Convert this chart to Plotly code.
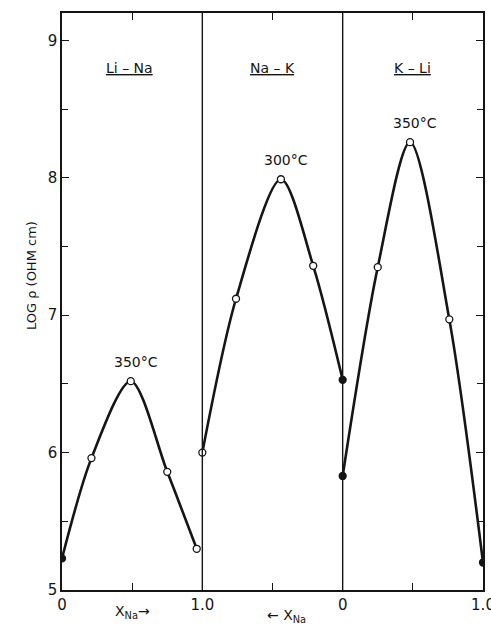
import plotly.graph_objects as go

# Li-Na panel (x from 0 to 1)
x_lina = [0.0, 0.21, 0.49, 0.75, 0.96]
y_lina = [5.23, 5.96, 6.52, 5.86, 5.30]
f_lina = [True, False, False, False, False]

# Na-K panel (x from 1 to 2)
x_nak = [1.0, 1.24, 1.56, 1.79, 2.0]
y_nak = [6.00, 7.12, 7.99, 7.36, 6.53]
f_nak = [False, False, False, False, True]

# K-Li panel (x from 2 to 3)
x_kli = [2.0, 2.25, 2.48, 2.76, 3.0]
y_kli = [5.83, 7.35, 8.26, 6.97, 5.20]
f_kli = [True, False, False, False, True]

panel_names = ["Li – Na", "Na – K", "K – Li"]
temps = ["350°C", "300°C", "350°C"]

x_tickvals = [0, 1, 2, 3]
x_ticktext = ["0", "1.0", "0", "1.0"]
y_tickvals = [5, 6, 7, 8, 9]

INK = "#151515"
FONT = "DejaVu Sans"

fig = go.Figure()

panels = [(x_lina, y_lina, f_lina), (x_nak, y_nak, f_nak), (x_kli, y_kli, f_kli)]
for xs, ys, fs in panels:
    fig.add_trace(go.Scatter(
        x=xs, y=ys, mode="lines",
        line=dict(color=INK, width=2.6, shape="spline", smoothing=0.85),
        showlegend=False, hoverinfo="skip"))
    fig.add_trace(go.Scatter(
        x=xs, y=ys, mode="markers",
        marker=dict(size=7, symbol="circle",
                    color=[INK if f else "white" for f in fs],
                    line=dict(color=INK, width=1.3)),
        showlegend=False))

# panel dividers
for xs in (x_nak, x_kli):
    fig.add_shape(type="line", x0=xs[0], x1=xs[0], y0=0, y1=1,
                  xref="x", yref="paper", line=dict(color=INK, width=1.4))

# panel labels and temperatures
for (xs, ys, fs), name, temp in zip(panels, panel_names, temps):
    xc = (xs[0] + xs[-1]) / 2
    fig.add_annotation(x=xc, y=8.8, xref="x", yref="y", text="<u>" + name + "</u>",
                       showarrow=False, font=dict(family=FONT, size=14, color=INK))
    i = ys.index(max(ys))
    fig.add_annotation(x=xs[i], y=ys[i], xref="x", yref="y", text=temp,
                       showarrow=False, yshift=19, xshift=5,
                       font=dict(family=FONT, size=14, color=INK))

# axis titles
fig.add_annotation(x=-0.095, y=0.545, xref="paper", yref="paper",
                   text="LOG ρ (OHM cm)", textangle=-90, showarrow=False,
                   font=dict(family=FONT, size=13, color=INK))
fig.add_annotation(x=0.5, y=0, xref="x", yref="paper", yshift=-33,
                   text="X<sub>Na</sub>→", showarrow=False,
                   font=dict(family=FONT, size=14, color=INK))
fig.add_annotation(x=1.6, y=0, xref="x", yref="paper", yshift=-37,
                   text="← X<sub>Na</sub>", showarrow=False,
                   font=dict(family=FONT, size=14, color=INK))

fig.update_xaxes(range=[0, 3], tickvals=x_tickvals, ticktext=x_ticktext,
                 ticklabeloverflow="allow", automargin=False,
                 showgrid=False, zeroline=False, showline=True, linecolor=INK,
                 linewidth=1.6, mirror="ticks", ticks="inside", ticklen=0,
                 tickfont=dict(family=FONT, size=15, color=INK),
                 minor=dict(dtick=0.5, tick0=0, ticks="inside", ticklen=7,
                            tickcolor=INK, tickwidth=1.3))
fig.update_yaxes(range=[5, 9.2], tickvals=y_tickvals, showgrid=False, zeroline=False,
                 automargin=False,
                 showline=True, linecolor=INK, linewidth=1.6, mirror="ticks",
                 ticks="inside", ticklen=7, tickcolor=INK, tickwidth=1.3,
                 tickfont=dict(family=FONT, size=15, color=INK),
                 minor=dict(dtick=0.5, tick0=5, ticks="inside", ticklen=6,
                            tickcolor=INK, tickwidth=1.3))

fig.update_layout(width=491, height=644, margin=dict(l=62, r=8, t=13, b=54),
                  paper_bgcolor="white", plot_bgcolor="white",
                  font=dict(family=FONT, color=INK))

fig.write_html("out.html")
